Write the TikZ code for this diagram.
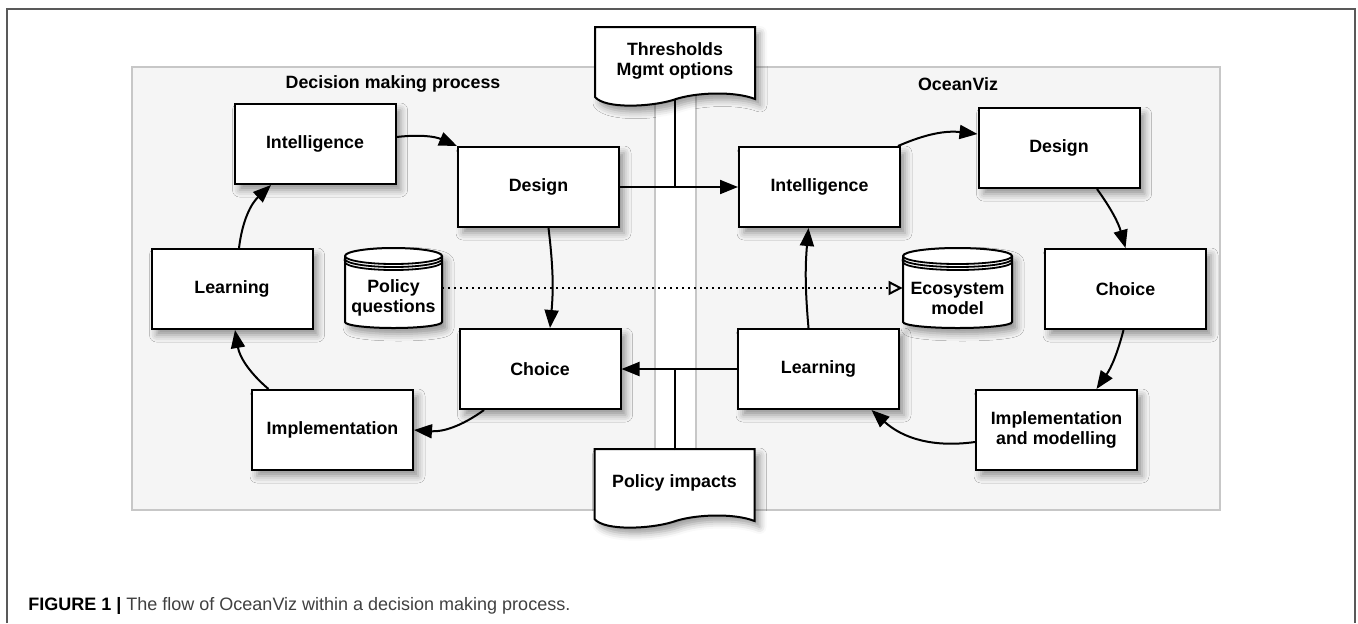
\documentclass[tikz,border=0pt]{standalone}
\usepackage{fontspec}
\setmainfont{Liberation Sans}
\usetikzlibrary{arrows.meta,shadows.blur}

\tikzset{
  soft shadow/.style={blur shadow={shadow xshift=2.5pt, shadow yshift=-3pt, shadow blur radius=3.5pt, shadow opacity=40}},
  boxfont/.style={font=\fontsize{8.9}{10}\selectfont\bfseries},
  stage/.style={draw, fill=white, line width=1pt, minimum width=80.5pt, minimum height=40pt,
    inner sep=1pt, align=center, boxfont, soft shadow},
  outline/.style={draw, fill=white, line width=1pt, soft shadow},
  sheettext/.style={inner sep=1pt, align=center, boxfont},
  paneltitle/.style={inner sep=1pt, boxfont},
  panel/.style={draw=black!22, fill=black!4, line width=0.8pt},
  flow/.style={line width=1pt, -{Triangle[length=9pt,width=7pt]}},
  link/.style={line width=1pt},
  dotflow/.style={line width=1pt, dash pattern=on 1pt off 2pt, -{Triangle[open,length=7pt,width=7pt]}}
}

% document sheet with wavy bottom: name, centre, text
\newcommand{\docsheet}[3]{%
  \begin{scope}[shift={(#2)}]
    \draw[outline] (-80,34) -- (-80,-36) .. controls (-70,-48) and (-25,-46) .. (-2,-39)
      .. controls (20,-31) and (60,-30) .. (80,-38) -- (80,34) -- cycle;
    \node[sheettext] (#1) at (0,0) {#3};
  \end{scope}}

% database drum: name, centre, half width (px), text
\newcommand{\dbdrum}[4]{%
  \begin{scope}[shift={(#2)}]
    \draw[outline] (-#3,32) arc[start angle=180, end angle=0, x radius=#3*0.5pt, y radius=4pt]
      -- (#3,-34) arc[start angle=0, end angle=-180, x radius=#3*0.5pt, y radius=3pt] -- cycle;
    \foreach \d in {0,3,6}
      \draw[line width=0.9pt] (-#3,32-\d) arc[start angle=180, end angle=360, x radius=#3*0.5pt, y radius=4pt];
    \node[sheettext, minimum width=#3pt] (#1) at (0,-10) {#4};
  \end{scope}}

\begin{document}
\begin{tikzpicture}[x=0.5pt,y=0.5pt]
  \useasboundingbox (0,0) rectangle (1358,-623);

  % Outer frame
  \draw[black!65, line width=0.9pt] (7,-623) -- (7,-9) -- (1355,-9) -- (1355,-623);

  % Panels
  \draw[panel] (132,-67) rectangle (655,-510);
  \draw[panel] (696,-67) rectangle (1220,-510);
  \node[paneltitle] (dmp) at (393,-84) {Decision making process};
  \node[paneltitle] (oviz) at (958,-84) {OceanViz};

  % Documents passed between the two
  \docsheet{thr}{675,-61}{Thresholds\\Mgmt options}
  \docsheet{pol}{674.5,-483}{Policy impacts}

  % Decision making cycle
  \node[stage] (intlL) at (315,-144) {Intelligence};
  \node[stage] (dsgnL) at (538.5,-187) {Design};
  \node[stage] (chcL) at (540,-369) {Choice};
  \node[stage] (implL) at (332.5,-430) {Implementation};
  \node[stage] (lrnL) at (232,-289) {Learning};

  % OceanViz cycle
  \node[stage] (intlR) at (819.5,-187) {Intelligence};
  \node[stage] (dsgnR) at (1059,-148) {Design};
  \node[stage] (chcR) at (1125.5,-289) {Choice};
  \node[stage] (implR) at (1056.5,-430) {Implementation\\and modelling};
  \node[stage] (lrnR) at (818.5,-369) {Learning};

  % Databases
  \dbdrum{pq}{393.5,-288}{48.5}{Policy\\questions}
  \dbdrum{eco}{957.5,-288}{54.5}{Ecosystem\\model}

  % Cycle arrows, left
  \draw[flow] ([xshift=3.5pt]lrnL.north) to[bend left=20] ([xshift=-22pt]intlL.south);
  \draw[flow] ([yshift=3.5pt]intlL.east) to[bend left=15] (dsgnL.north west);
  \draw[flow] ([xshift=5pt]dsgnL.south) to[bend left=6] ([xshift=5pt]chcL.north);
  \draw[flow] ([xshift=-28pt]chcL.south) to[bend left=20] (implL.east);
  \draw[flow] ([xshift=-32pt]implL.north) to[bend left=20] ([xshift=1.5pt]lrnL.south);

  % Cycle arrows, right
  \draw[flow] ([xshift=-1.5pt]intlR.north east) to[bend left=15] ([yshift=7pt]dsgnR.west);
  \draw[flow] ([xshift=19pt]dsgnR.south) to[bend left=10] (chcR.north);
  \draw[flow] ([xshift=-1pt]chcR.south) to[bend left=10] ([xshift=20pt]implR.north);
  \draw[flow] ([yshift=-6pt]implR.west) to[bend left=25] ([xshift=26.5pt]lrnR.south);
  \draw[flow] ([xshift=-5pt]lrnR.north) to[bend left=5] ([xshift=-5.5pt]intlR.south);

  % Links between the cycles
  \draw[flow] (dsgnL.east) -- (intlR.west);
  \draw[flow] (lrnR.west) -- (chcL.east);
  \draw[link] ([yshift=-19.5pt]thr.center) -- (thr.center |- dsgnL.east);
  \draw[link] ([yshift=16.5pt]pol.center) -- (pol.center |- chcL.east);
  \draw[dotflow] ([yshift=5pt]pq.east) -- ([yshift=5pt]eco.west);

  % Caption
  \node[anchor=base west, inner sep=0pt, text=black!75, font=\fontsize{9}{11}\selectfont] (cap) at (28,-610)
    {\textbf{\textcolor{black}{FIGURE 1 |}} The flow of OceanViz within a decision making process.};
\end{tikzpicture}
\end{document}
